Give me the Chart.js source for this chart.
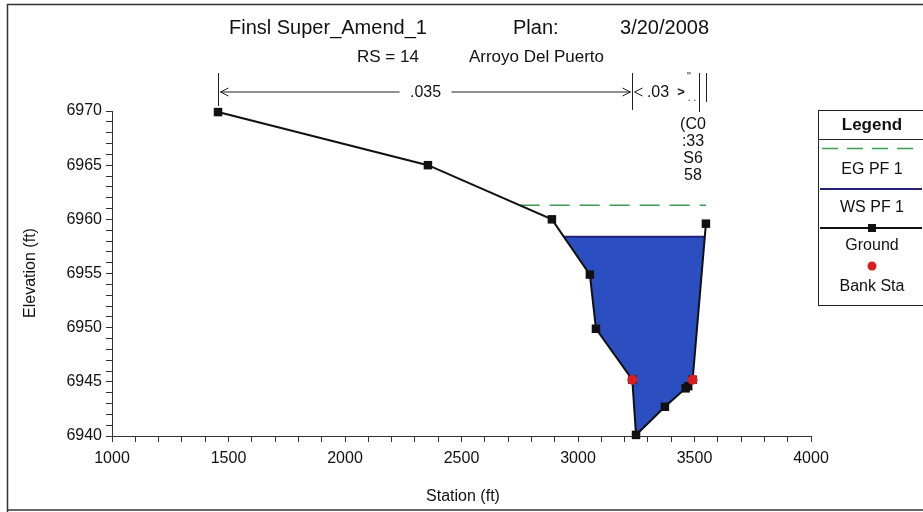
<!DOCTYPE html>
<html>
<head>
<meta charset="utf-8">
<script src="https://cdn.jsdelivr.net/npm/chart.js@4/dist/chart.umd.min.js"></script>
<style>
  html, body { margin: 0; padding: 0; background: #fff; }
  #wrap { width: 923px; height: 512px; }
</style>
</head>
<body>
<div id="wrap"><canvas id="c" width="923" height="512"></canvas></div>
<script>
// Cross section RS 14, Arroyo Del Puerto
const groundStation = [1455, 2356, 2888, 3051, 3077, 3233, 3249, 3373, 3462, 3473, 3492, 3549];
const groundElev    = [6969.9, 6965.0, 6960.0, 6954.9, 6949.9, 6945.2, 6940.1, 6942.7, 6944.4, 6944.6, 6945.2, 6959.6];
const bankStations  = [3233, 3492];
const wsElev = 6958.4;   // WS PF 1
const egElev = 6961.3;   // EG PF 1
const nBreaks = [1455, 3233, 3510, 3549];
const nValues = ['.035', '.03'];
const squeezedN = ['(C0', ':33', 'S6', '58'];
const xTicks = [1000, 1500, 2000, 2500, 3000, 3500, 4000];
const yTicks = [6940, 6945, 6950, 6955, 6960, 6965, 6970];

const FONT = '"Liberation Sans", Arial, sans-serif';

// where a horizontal level meets the ground, searching from a side
function crossing(level, fromLeft) {
  const n = groundStation.length;
  if (fromLeft) {
    for (let i = 0; i < n - 1; i++) {
      const a = groundElev[i], b = groundElev[i + 1];
      if (a >= level && b < level) {
        return groundStation[i] + (groundStation[i + 1] - groundStation[i]) * (a - level) / (a - b);
      }
    }
    return groundStation[0];
  } else {
    for (let i = n - 1; i > 0; i--) {
      const a = groundElev[i], b = groundElev[i - 1];
      if (a >= level && b < level) {
        return groundStation[i] - (groundStation[i] - groundStation[i - 1]) * (a - level) / (a - b);
      }
    }
    return groundStation[n - 1];
  }
}

const groundPts = groundStation.map((s, i) => ({ x: s, y: groundElev[i] }));
const bankPts = bankStations.map(s => ({ x: s, y: groundElev[groundStation.indexOf(s)] }));
const wsPts = [{ x: crossing(wsElev, true), y: wsElev }, { x: crossing(wsElev, false), y: wsElev }];
const egPts = [{ x: crossing(egElev, true), y: egElev }, { x: crossing(egElev, false), y: egElev }];

const frame = {
  id: 'frame',
  beforeDraw(chart) {
    const ctx = chart.ctx;
    ctx.save();
    ctx.fillStyle = '#fff';
    ctx.fillRect(0, 0, chart.width, chart.height);
    ctx.strokeStyle = '#333';
    ctx.lineWidth = 1.5;
    ctx.beginPath();
    ctx.moveTo(7.5, 512); ctx.lineTo(7.5, 4.5); ctx.lineTo(923, 4.5);
    ctx.moveTo(7.5, 510); ctx.lineTo(923, 510);
    ctx.stroke();
    ctx.restore();
  },
  afterDraw(chart) {
    const ctx = chart.ctx;
    const xs = chart.scales.x;
    ctx.save();
    ctx.fillStyle = '#111';
    ctx.textBaseline = 'middle';

    // titles
    ctx.font = '20px ' + FONT;
    ctx.textAlign = 'left';
    ctx.fillText('Finsl Super_Amend_1', 229, 28);
    ctx.fillText('Plan:', 513, 28);
    ctx.textAlign = 'right';
    ctx.fillText('3/20/2008', 709, 28);
    ctx.font = '17px ' + FONT;
    ctx.textAlign = 'left';
    ctx.fillText('RS = 14', 357, 57);
    ctx.textAlign = 'right';
    ctx.fillText('Arroyo Del Puerto', 604, 57);

    // axis titles
    ctx.font = '16px ' + FONT;
    ctx.textAlign = 'center';
    ctx.fillText('Station (ft)', 463, 497);
    ctx.save();
    ctx.translate(31, 273);
    ctx.rotate(-Math.PI / 2);
    ctx.fillText('Elevation (ft)', 0, 0);
    ctx.restore();

    // Manning's n brackets
    const bx = nBreaks.map(v => Math.round(xs.getPixelForValue(v)) + 0.5);
    ctx.strokeStyle = '#222';
    ctx.lineWidth = 1;
    ctx.beginPath();
    ctx.moveTo(bx[0], 73); ctx.lineTo(bx[0], 106);
    ctx.moveTo(bx[1], 73); ctx.lineTo(bx[1], 110);
    ctx.moveTo(bx[2] + 2, 73); ctx.lineTo(bx[2] + 2, 112);
    ctx.moveTo(bx[3], 73); ctx.lineTo(bx[3], 102);
    ctx.stroke();

    const ay = 92;
    const mid0 = (bx[0] + bx[1]) / 2;
    ctx.font = '16px ' + FONT;
    ctx.textAlign = 'center';
    ctx.fillText(nValues[0], mid0, ay + 1);
    ctx.beginPath();
    ctx.moveTo(bx[0] + 2, ay); ctx.lineTo(mid0 - 26, ay);
    ctx.moveTo(mid0 + 26, ay); ctx.lineTo(bx[1] - 2, ay);
    ctx.stroke();
    const head = (x, dir) => {
      ctx.beginPath();
      ctx.moveTo(x, ay);
      ctx.lineTo(x + dir * 8, ay - 4);
      ctx.moveTo(x, ay);
      ctx.lineTo(x + dir * 8, ay + 4);
      ctx.stroke();
    };
    head(bx[0] + 2, 1);
    head(bx[1] - 2, -1);
    head(bx[1] + 2, 1);
    ctx.fillText(nValues[1], 658, ay + 1);
    ctx.font = 'bold 13px ' + FONT;
    ctx.fillText('>', 681, ay);
    ctx.font = '10px ' + FONT;
    ctx.fillText('\'\'', 689, 77);
    ctx.fillText('. .', 692, 98);
    ctx.font = '16px ' + FONT;
    squeezedN.forEach((t, i) => ctx.fillText(t, 693, 125 + i * 17));

    // legend box
    const L = 818.5, T = 110.5, R = 930, B = 305.5;
    ctx.strokeStyle = '#222';
    ctx.lineWidth = 1;
    ctx.strokeRect(L, T, R - L, B - T);
    ctx.beginPath(); ctx.moveTo(L, 139.5); ctx.lineTo(R, 139.5); ctx.stroke();
    const cx = 872;
    ctx.fillStyle = '#111';
    ctx.font = 'bold 17px ' + FONT;
    ctx.fillText('Legend', cx, 125);
    ctx.font = '16px ' + FONT;
    ctx.lineWidth = 1.5;
    ctx.strokeStyle = '#3c9a52';
    ctx.setLineDash([16, 9]);
    ctx.beginPath(); ctx.moveTo(822, 148.5); ctx.lineTo(922, 148.5); ctx.stroke();
    ctx.setLineDash([]);
    ctx.fillText('EG PF 1', cx, 170);
    ctx.strokeStyle = '#23207a';
    ctx.lineWidth = 2;
    ctx.beginPath(); ctx.moveTo(820, 189); ctx.lineTo(922, 189); ctx.stroke();
    ctx.fillText('WS PF 1', cx, 208);
    ctx.strokeStyle = '#111';
    ctx.beginPath(); ctx.moveTo(820, 228); ctx.lineTo(922, 228); ctx.stroke();
    ctx.fillStyle = '#111';
    ctx.fillRect(cx - 4, 224, 8, 8);
    ctx.fillText('Ground', cx, 246);
    ctx.fillStyle = '#d81e1e';
    ctx.beginPath(); ctx.arc(cx, 266, 4.5, 0, Math.PI * 2); ctx.fill();
    ctx.fillStyle = '#111';
    ctx.fillText('Bank Sta', cx, 287);
    ctx.restore();
  }
};

new Chart(document.getElementById('c'), {
  type: 'scatter',
  data: {
    datasets: [
      {
        label: 'EG PF 1', data: egPts, showLine: true, order: 3,
        borderColor: '#3c9a52', borderWidth: 1.5, borderDash: [20, 10],
        pointRadius: 0, fill: false
      },
      {
        label: 'WS PF 1', data: wsPts, showLine: true, order: 2,
        borderColor: '#23207a', borderWidth: 2,
        backgroundColor: '#2b4fc0',
        pointRadius: 0, fill: { target: 2 }
      },
      {
        label: 'Ground', data: groundPts, showLine: true, order: 1, clip: false,
        borderColor: '#111', borderWidth: 2, tension: 0,
        pointStyle: 'rect', pointRadius: 6, pointBackgroundColor: '#111', pointBorderColor: '#111',
        pointBorderWidth: 0, fill: false
      },
      {
        label: 'Bank Sta', data: bankPts, showLine: false, order: 0, clip: false,
        pointStyle: 'circle', pointRadius: 5, pointBackgroundColor: '#d81e1e', pointBorderColor: '#d81e1e',
        pointBorderWidth: 0
      }
    ]
  },
  options: {
    responsive: false,
    animation: false,
    devicePixelRatio: 1,
    layout: { padding: { top: 111, right: 112, bottom: 0, left: 0 } },
    plugins: {
      legend: { display: false },
      tooltip: { enabled: false },
      title: { display: false },
      filler: { drawTime: 'beforeDatasetsDraw' }
    },
    scales: {
      x: {
        type: 'linear', min: xTicks[0], max: xTicks[xTicks.length - 1],
        afterFit(s) { s.height = 76; },
        afterBuildTicks(s) {
          const t = [];
          for (let v = xTicks[0]; v <= xTicks[xTicks.length - 1]; v += 100) t.push({ value: v });
          s.ticks = t;
        },
        ticks: {
          callback: v => (xTicks.includes(v) ? String(v) : ''),
          color: '#111', font: { family: FONT, size: 16 }, padding: 7, maxRotation: 0, autoSkip: false
        },
        grid: { drawOnChartArea: false, tickLength: 6, color: '#333', tickWidth: 1 },
        border: { color: '#333', width: 1 }
      },
      y: {
        type: 'linear', min: yTicks[0], max: yTicks[yTicks.length - 1],
        afterFit(s) { s.width = 112; },
        afterBuildTicks(s) {
          const t = [];
          for (let v = yTicks[0]; v <= yTicks[yTicks.length - 1]; v += 1) t.push({ value: v });
          s.ticks = t;
        },
        ticks: {
          callback: v => (yTicks.includes(v) ? String(v) : ''),
          color: '#111', font: { family: FONT, size: 16 }, padding: 4, autoSkip: false
        },
        grid: { drawOnChartArea: false, tickLength: 6, color: '#333', tickWidth: 1 },
        border: { color: '#333', width: 1 }
      }
    }
  },
  plugins: [frame]
});
</script>
</body>
</html>
